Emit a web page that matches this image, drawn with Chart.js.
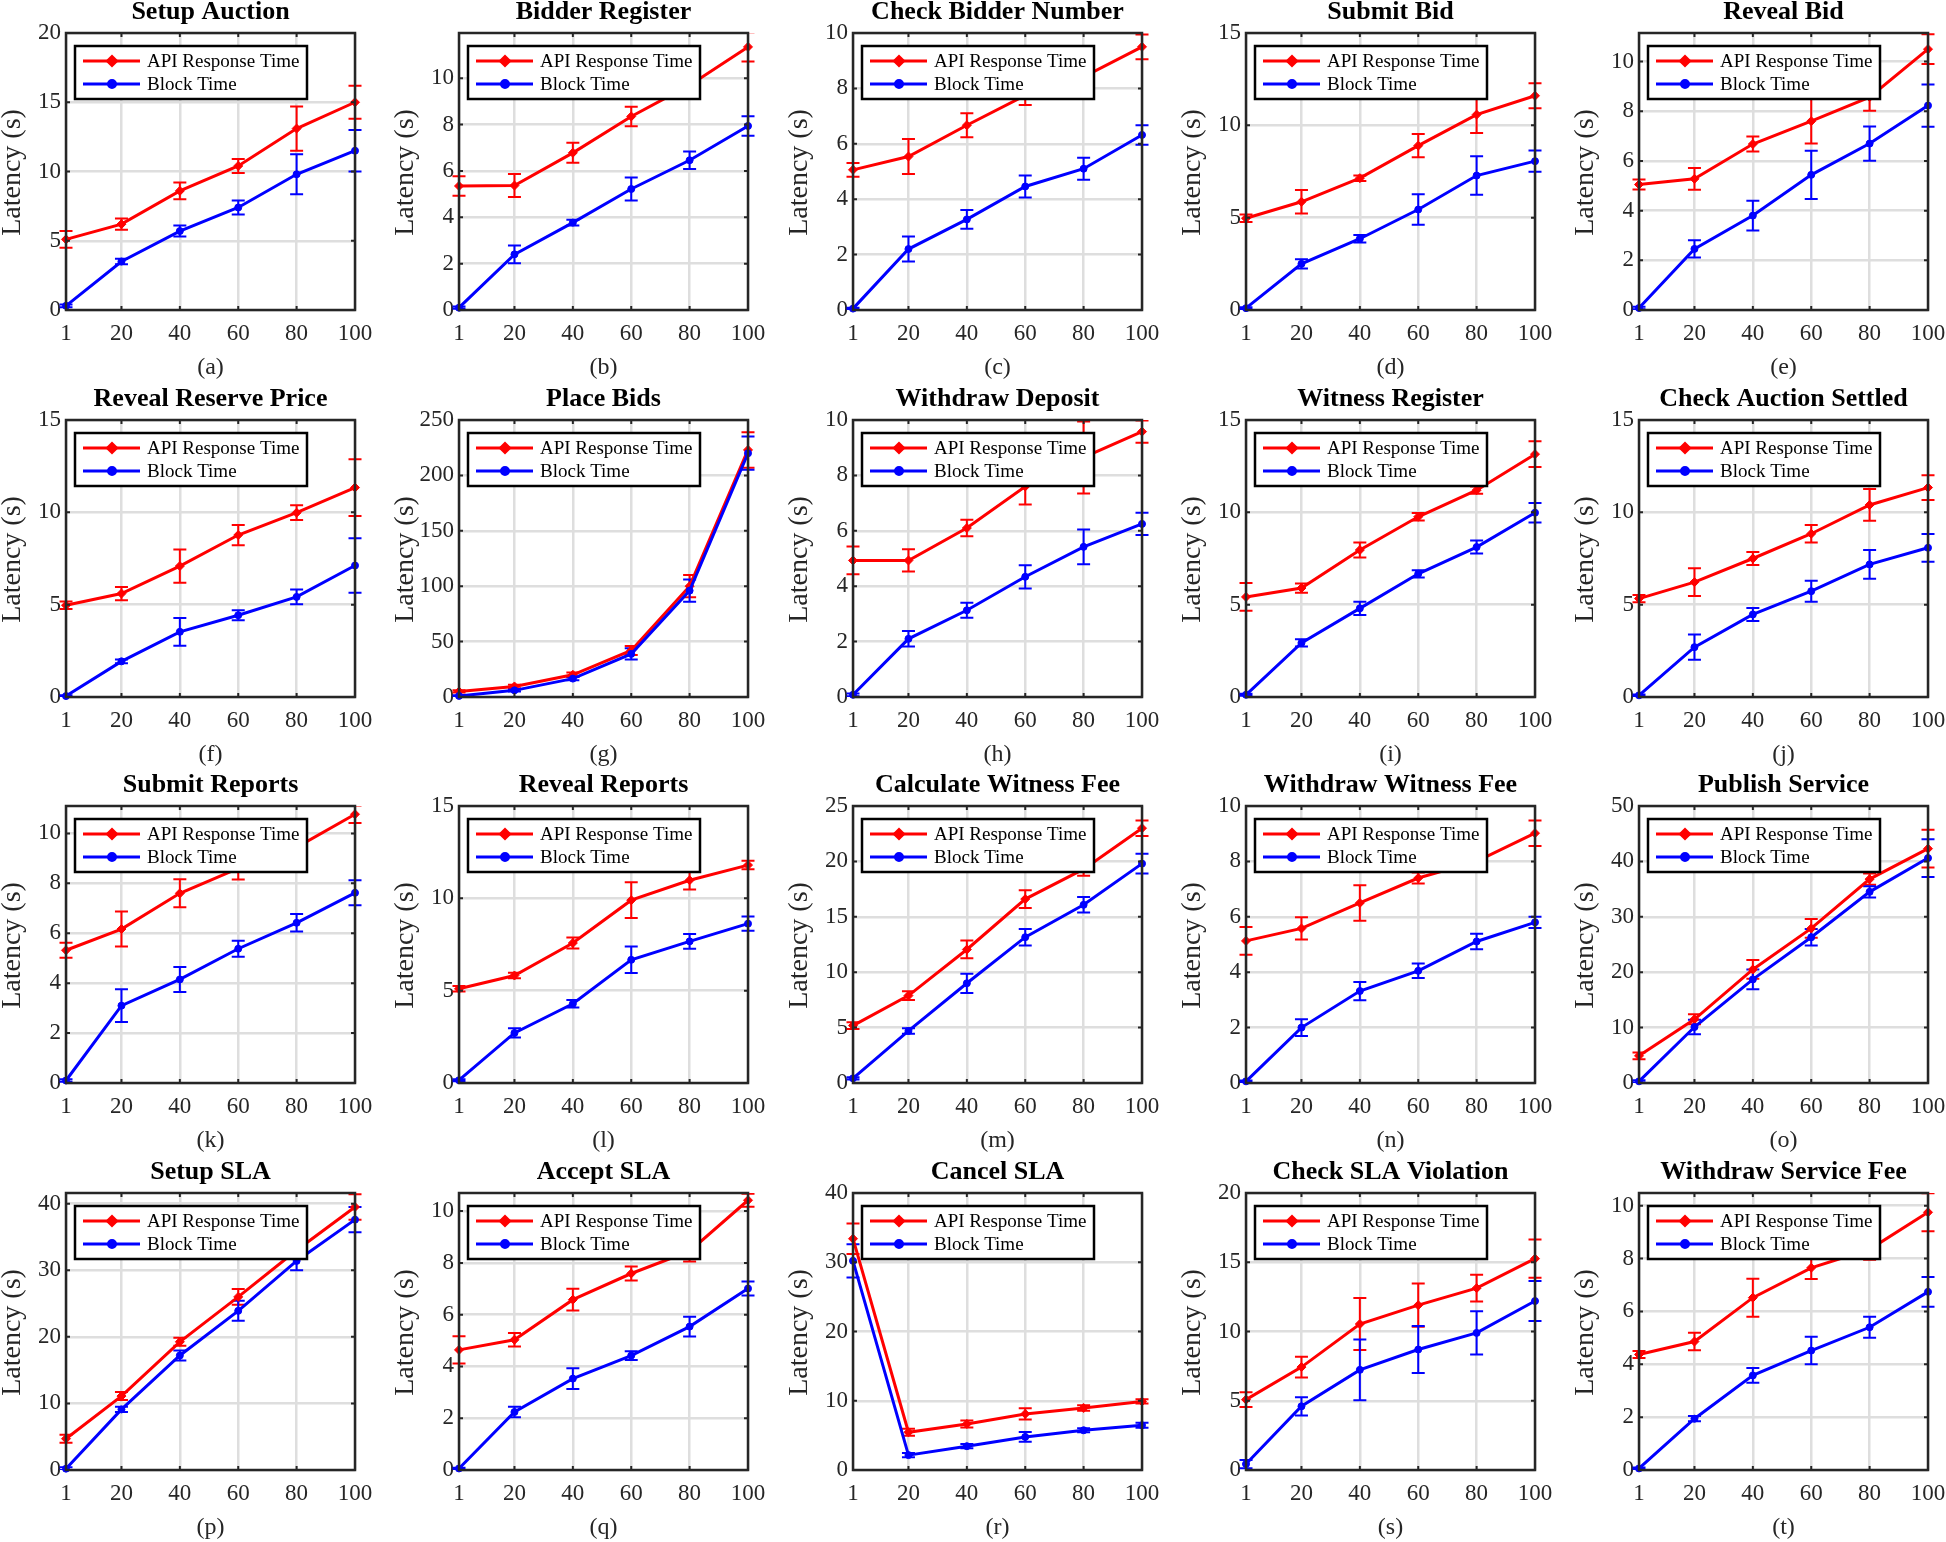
<!DOCTYPE html>
<html lang="en">
<head>
<meta charset="UTF-8">
<title>Latency vs Number of Requests</title>
<script src="https://cdn.jsdelivr.net/npm/chart.js"></script>
<style>
    body {
        margin: 0;
        background: #ffffff;
        width: 1946px;
        height: 1542px;
        overflow: hidden;
        position: relative;
    }
    canvas {
        position: absolute;
    }
</style>
</head>
<body>
<script>
// ---- data ----
const titles = [
    'Setup Auction', 'Bidder Register', 'Check Bidder Number', 'Submit Bid', 'Reveal Bid',
    'Reveal Reserve Price', 'Place Bids', 'Withdraw Deposit', 'Witness Register', 'Check Auction Settled',
    'Submit Reports', 'Reveal Reports', 'Calculate Witness Fee', 'Withdraw Witness Fee', 'Publish Service',
    'Setup SLA', 'Accept SLA', 'Cancel SLA', 'Check SLA Violation', 'Withdraw Service Fee'
];
const panelLabels = ['(a)', '(b)', '(c)', '(d)', '(e)', '(f)', '(g)', '(h)', '(i)', '(j)',
                     '(k)', '(l)', '(m)', '(n)', '(o)', '(p)', '(q)', '(r)', '(s)', '(t)'];
const seriesNames = ['API Response Time', 'Block Time'];
const xValues = [1, 20, 40, 60, 80, 100];
const yAxisTitle = 'Latency (s)';

const apiMean = [
    [5.1, 6.2, 8.6, 10.4, 13.1, 15.0],
    [5.35, 5.37, 6.78, 8.35, 9.7, 11.35],
    [5.06, 5.54, 6.67, 7.75, 8.42, 9.5],
    [4.97, 5.86, 7.14, 8.9, 10.58, 11.6],
    [5.05, 5.28, 6.68, 7.6, 8.57, 10.5],
    [4.97, 5.6, 7.09, 8.77, 9.98, 11.34],
    [5, 9.5, 20, 42, 100, 223],
    [4.93, 4.93, 6.1, 7.6, 8.65, 9.58],
    [5.42, 5.9, 7.96, 9.76, 11.2, 13.15],
    [5.33, 6.22, 7.5, 8.84, 10.4, 11.34],
    [5.32, 6.17, 7.6, 8.6, 9.44, 10.77],
    [5.1, 5.82, 7.58, 9.9, 10.98, 11.8],
    [5.18, 7.89, 12.05, 16.6, 19.3, 23.0],
    [5.13, 5.58, 6.5, 7.4, 8.0, 9.02],
    [4.9, 11.5, 20.5, 27.9, 36.8, 42.3],
    [4.7, 11.1, 19.25, 26.0, 33.0, 39.5],
    [4.64, 5.03, 6.58, 7.59, 8.45, 10.42],
    [33.4, 5.45, 6.65, 8.1, 8.95, 9.9],
    [5.08, 7.43, 10.54, 11.9, 13.13, 15.26],
    [4.37, 4.86, 6.52, 7.65, 8.35, 9.75]
];
const apiErr = [
    [0.6, 0.4, 0.6, 0.5, 1.6, 1.2],
    [0.42, 0.5, 0.43, 0.42, 0.4, 0.63],
    [0.25, 0.63, 0.43, 0.35, 0.4, 0.45],
    [0.2, 0.64, 0.15, 0.63, 1.0, 0.68],
    [0.2, 0.44, 0.3, 0.9, 0.55, 0.6],
    [0.2, 0.36, 0.9, 0.55, 0.4, 1.54],
    [1, 1.5, 2, 4, 10, 16],
    [0.5, 0.4, 0.3, 0.65, 1.3, 0.4],
    [0.75, 0.25, 0.4, 0.2, 0.2, 0.7],
    [0.2, 0.75, 0.35, 0.47, 0.86, 0.67],
    [0.3, 0.7, 0.56, 0.45, 0.4, 0.35],
    [0.15, 0.15, 0.3, 0.97, 0.5, 0.23],
    [0.3, 0.4, 0.8, 0.8, 0.6, 0.7],
    [0.5, 0.4, 0.64, 0.2, 0.3, 0.46],
    [0.6, 0.9, 1.7, 1.7, 1.0, 3.4],
    [0.6, 0.6, 0.6, 1.2, 1.0, 1.9],
    [0.53, 0.26, 0.42, 0.27, 0.4, 0.25],
    [2.2, 0.5, 0.5, 0.8, 0.4, 0.3],
    [0.54, 0.75, 1.87, 1.56, 0.97, 1.38],
    [0.13, 0.33, 0.72, 0.42, 0.4, 0.72]
];
const blockMean = [
    [0.3, 3.5, 5.7, 7.4, 9.8, 11.5],
    [0.1, 2.4, 3.77, 5.22, 6.46, 7.94],
    [0.05, 2.2, 3.27, 4.46, 5.1, 6.32],
    [0.1, 2.5, 3.86, 5.44, 7.28, 8.06],
    [0.08, 2.46, 3.8, 5.44, 6.7, 8.23],
    [0.05, 1.93, 3.53, 4.43, 5.42, 7.12],
    [1, 6, 16.6, 38.9, 96, 220],
    [0.08, 2.1, 3.13, 4.34, 5.42, 6.25],
    [0.12, 2.93, 4.8, 6.67, 8.12, 9.98],
    [0.09, 2.7, 4.47, 5.73, 7.18, 8.08],
    [0.1, 3.1, 4.15, 5.38, 6.42, 7.62],
    [0.15, 2.71, 4.29, 6.67, 7.67, 8.63],
    [0.42, 4.7, 9.0, 13.16, 16.08, 19.8],
    [0.06, 2.0, 3.32, 4.05, 5.11, 5.8],
    [0.3, 10.1, 18.7, 26.3, 34.5, 40.6],
    [0.2, 9.1, 17.2, 23.9, 31.4, 37.6],
    [0.06, 2.24, 3.53, 4.42, 5.54, 7.01],
    [30.2, 2.15, 3.44, 4.78, 5.74, 6.46],
    [0.43, 4.6, 7.23, 8.7, 9.9, 12.2],
    [0.06, 1.94, 3.58, 4.52, 5.4, 6.74]
];
const blockErr = [
    [0.1, 0.2, 0.4, 0.5, 1.45, 1.5],
    [0.05, 0.38, 0.12, 0.5, 0.38, 0.42],
    [0.03, 0.45, 0.34, 0.4, 0.4, 0.35],
    [0.05, 0.25, 0.2, 0.83, 1.04, 0.58],
    [0.05, 0.35, 0.6, 0.97, 0.69, 0.85],
    [0.05, 0.1, 0.75, 0.27, 0.4, 1.47],
    [0.5, 1, 1.5, 5, 10, 15],
    [0.05, 0.28, 0.27, 0.42, 0.63, 0.4],
    [0.05, 0.2, 0.36, 0.2, 0.35, 0.53],
    [0.05, 0.68, 0.35, 0.57, 0.78, 0.75],
    [0.05, 0.66, 0.5, 0.32, 0.35, 0.5],
    [0.05, 0.25, 0.2, 0.72, 0.4, 0.38],
    [0.1, 0.25, 0.87, 0.75, 0.7, 0.9],
    [0.03, 0.3, 0.33, 0.26, 0.28, 0.2],
    [0.2, 1.3, 1.8, 1.5, 1.0, 3.4],
    [0.2, 0.4, 0.75, 1.5, 1.4, 1.9],
    [0.03, 0.2, 0.4, 0.17, 0.38, 0.27],
    [2.4, 0.3, 0.3, 0.7, 0.3, 0.35],
    [0.3, 0.66, 2.19, 1.7, 1.56, 1.44],
    [0.03, 0.1, 0.28, 0.52, 0.4, 0.56]
];
// y limits and tick steps per panel
const yMax = [20, 11.95, 10, 15, 11.15, 15, 250, 10, 15, 15, 11.1, 15, 25, 10, 50, 41.6, 10.7, 40, 20, 10.48];
const yStep = [5, 2, 2, 5, 2, 5, 50, 2, 5, 5, 2, 5, 5, 2, 10, 10, 2, 10, 5, 2];

// ---- look ----
const RED = '#ff0000';
const BLUE = '#0000ff';
const AXIS = '#262626';
const GRID = '#dedede';
const FONT = '"Liberation Serif", "Times New Roman", serif';
const COL_W = 393.3, ROW_H = 386.7;
const CANVAS_W = 393, CANVAS_H = 387;

function decorPlugin(p) {
    return {
        id: 'decor' + p,
        beforeDatasetsDraw(chart) {
            // error bars, clipped vertically to the axes box
            const { ctx, chartArea: a, scales } = chart;
            ctx.save();
            ctx.beginPath();
            ctx.rect(a.left - 20, a.top, a.right - a.left + 40, a.bottom - a.top);
            ctx.clip();
            [[apiMean, apiErr, RED], [blockMean, blockErr, BLUE]].forEach(([m, e, col]) => {
                ctx.strokeStyle = col;
                ctx.lineWidth = 2;
                xValues.forEach((x, i) => {
                    const px = scales.x.getPixelForValue(x);
                    const lo = scales.y.getPixelForValue(m[p][i] - e[p][i]);
                    const hi = scales.y.getPixelForValue(m[p][i] + e[p][i]);
                    ctx.beginPath();
                    ctx.moveTo(px, lo); ctx.lineTo(px, hi);
                    ctx.moveTo(px - 6.5, lo); ctx.lineTo(px + 6.5, lo);
                    ctx.moveTo(px - 6.5, hi); ctx.lineTo(px + 6.5, hi);
                    ctx.stroke();
                });
            });
            ctx.restore();
        },
        afterDatasetsDraw(chart) {
            const { ctx, chartArea: a, scales } = chart;
            ctx.save();

            // inward ticks on all four sides
            ctx.strokeStyle = AXIS;
            ctx.lineWidth = 2;
            ctx.beginPath();
            scales.x.ticks.forEach(t => {
                const px = scales.x.getPixelForValue(t.value);
                ctx.moveTo(px, a.bottom); ctx.lineTo(px, a.bottom - 4);
                ctx.moveTo(px, a.top); ctx.lineTo(px, a.top + 4);
            });
            scales.y.ticks.forEach(t => {
                const py = scales.y.getPixelForValue(t.value);
                ctx.moveTo(a.left, py); ctx.lineTo(a.left + 4, py);
                ctx.moveTo(a.right, py); ctx.lineTo(a.right - 4, py);
            });
            ctx.stroke();

            // axes box
            ctx.lineWidth = 2.5;
            ctx.strokeRect(a.left, a.top, a.right - a.left, a.bottom - a.top);

            // legend
            const lx = a.left + 9, ly = a.top + 13, lw = 232, lh = 53;
            ctx.fillStyle = '#ffffff';
            ctx.fillRect(lx, ly, lw, lh);
            ctx.strokeStyle = '#000000';
            ctx.lineWidth = 2.5;
            ctx.strokeRect(lx, ly, lw, lh);
            [[RED, 'rectRot', 4.5, 15], [BLUE, 'circle', 3.5, 38]].forEach(([col, style, r, dy], k) => {
                const y = ly + dy;
                ctx.strokeStyle = col;
                ctx.lineWidth = 3;
                ctx.beginPath();
                ctx.moveTo(lx + 8, y); ctx.lineTo(lx + 65, y);
                ctx.stroke();
                ctx.fillStyle = col;
                Chart.helpers.drawPoint(ctx, { pointStyle: style, radius: r, borderWidth: 1 }, lx + 37, y);
                ctx.fill();
                ctx.fillStyle = '#000000';
                ctx.font = '19px ' + FONT;
                ctx.textAlign = 'left';
                ctx.textBaseline = 'middle';
                ctx.fillText(seriesNames[k], lx + 72, y + 1);
            });

            // title, sub-label, y-axis title
            const cx = (a.left + a.right) / 2;
            ctx.fillStyle = '#000000';
            ctx.textAlign = 'center';
            ctx.textBaseline = 'alphabetic';
            ctx.font = 'bold 26px ' + FONT;
            ctx.fillText(titles[p], cx, a.top - 14);

            ctx.fillStyle = AXIS;
            ctx.font = '24px ' + FONT;
            ctx.textBaseline = 'middle';
            ctx.fillText(panelLabels[p], cx, a.bottom + 58);

            ctx.translate(13, (a.top + a.bottom) / 2 + 1);
            ctx.rotate(-Math.PI / 2);
            ctx.font = '28px ' + FONT;
            ctx.fillText(yAxisTitle, 0, 0);
            ctx.restore();
        }
    };
}

titles.forEach((title, p) => {
    const row = Math.floor(p / 5), col = p % 5;
    const canvas = document.createElement('canvas');
    canvas.width = CANVAS_W;
    canvas.height = CANVAS_H;
    canvas.style.left = Math.round(col * COL_W) + 'px';
    canvas.style.top = Math.round(row * ROW_H) + 'px';
    canvas.style.width = CANVAS_W + 'px';
    canvas.style.height = CANVAS_H + 'px';
    document.body.appendChild(canvas);

    const yTicks = [];
    for (let v = 0; v <= yMax[p] + 1e-9; v += yStep[p]) yTicks.push(v);

    new Chart(canvas.getContext('2d'), {
        type: 'line',
        data: {
            datasets: [
                {
                    label: seriesNames[0],
                    data: xValues.map((x, i) => ({ x, y: apiMean[p][i] })),
                    borderColor: RED,
                    backgroundColor: RED,
                    borderWidth: 3,
                    pointStyle: 'rectRot',
                    pointRadius: 4.5,
                    pointBorderWidth: 1,
                    clip: false,
                    order: 2
                },
                {
                    label: seriesNames[1],
                    data: xValues.map((x, i) => ({ x, y: blockMean[p][i] })),
                    borderColor: BLUE,
                    backgroundColor: BLUE,
                    borderWidth: 3,
                    pointStyle: 'circle',
                    pointRadius: 3.5,
                    pointBorderWidth: 1,
                    clip: false,
                    order: 1
                }
            ]
        },
        options: {
            responsive: false,
            animation: false,
            devicePixelRatio: 1,
            layout: { padding: { left: 0, top: 33, right: CANVAS_W - 355, bottom: CANVAS_H - 310 - 40 } },
            plugins: { legend: { display: false }, tooltip: { enabled: false } },
            scales: {
                x: {
                    type: 'linear',
                    min: 1,
                    max: 100,
                    afterBuildTicks: s => { s.ticks = xValues.map(v => ({ value: v })); },
                    afterFit: s => { s.height = 40; },
                    grid: { color: GRID, lineWidth: 2.5, drawTicks: false },
                    border: { display: false },
                    ticks: {
                        padding: 10,
                        color: AXIS,
                        font: { family: FONT, size: 23 },
                        maxRotation: 0,
                        callback: v => String(v)
                    }
                },
                y: {
                    min: 0,
                    max: yMax[p],
                    afterBuildTicks: s => { s.ticks = yTicks.map(v => ({ value: v })); },
                    afterFit: s => { s.width = 66; },
                    grid: { color: GRID, lineWidth: 2.5, drawTicks: false },
                    border: { display: false },
                    ticks: {
                        padding: 5,
                        color: AXIS,
                        font: { family: FONT, size: 23 },
                        callback: v => String(v)
                    }
                }
            }
        },
        plugins: [decorPlugin(p)]
    });
});
</script>
</body>
</html>
